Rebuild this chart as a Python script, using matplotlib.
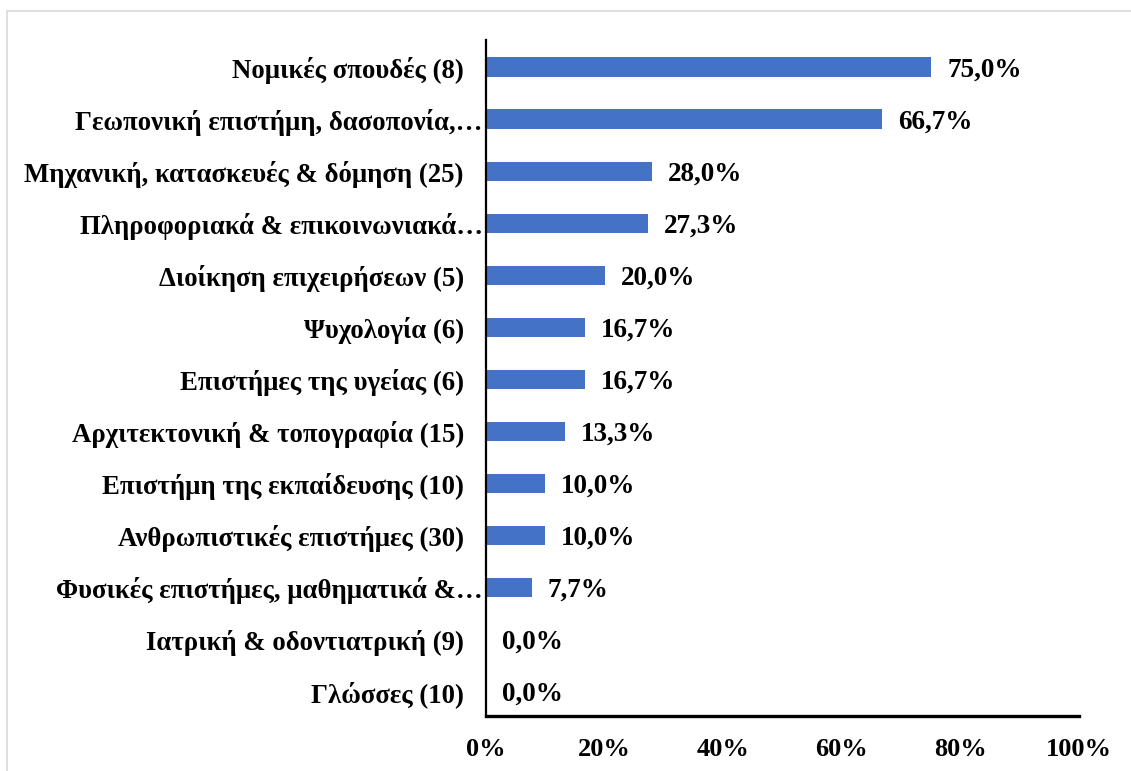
import matplotlib.pyplot as plt
from matplotlib.patches import Rectangle
from matplotlib.transforms import ScaledTranslation

categories = [
    "Νομικές σπουδές (8)",
    "Γεωπονική επιστήμη, δασοπονία,…",
    "Μηχανική, κατασκευές & δόμηση (25)",
    "Πληροφοριακά & επικοινωνιακά…",
    "Διοίκηση επιχειρήσεων (5)",
    "Ψυχολογία (6)",
    "Επιστήμες της υγείας (6)",
    "Αρχιτεκτονική & τοπογραφία (15)",
    "Επιστήμη της εκπαίδευσης (10)",
    "Ανθρωπιστικές επιστήμες (30)",
    "Φυσικές επιστήμες, μαθηματικά &…",
    "Ιατρική & οδοντιατρική (9)",
    "Γλώσσες (10)",
]
values = [75.0, 66.7, 28.0, 27.3, 20.0, 16.7, 16.7, 13.3, 10.0, 10.0, 7.7, 0.0, 0.0]
truncated = [1, 3, 10]
xticks = [0, 20, 40, 60, 80, 100]

plt.rcParams['font.family'] = ['Liberation Serif', 'DejaVu Serif']
plt.rcParams['font.weight'] = 'bold'

fig = plt.figure(figsize=(11.31, 7.71), dpi=100)
fig.patches.append(Rectangle((0.0062, -0.05), 1.1, 1.0357, transform=fig.transFigure,
                             fill=False, edgecolor="#D9D9D9", linewidth=1.2))
ax = fig.add_axes([0.4297, 0.0713, 0.5246, 0.8768])

pos = list(range(len(categories)))
ax.barh(pos, values, height=0.37, color="#4472C4")
for p, v in zip(pos, values):
    ax.text(v + 2.7, p, f"{v:.1f}%".replace(".", ","), va="center_baseline", ha="left",
            fontsize=19.5, fontweight="bold")

ax.set_xlim(0, 100)
ax.set_ylim(12.47, -0.52)
ax.set_yticks(pos)
ax.set_yticklabels(categories, fontsize=19.3, fontweight="bold")
ax.set_xticks(xticks)
ax.set_xticklabels([f"{t}%" for t in xticks], fontsize=19, fontweight="bold")
ax.tick_params(axis="y", length=0, pad=16)
ax.tick_params(axis="x", length=0, pad=16)

for i in truncated:
    lab = ax.get_yticklabels()[i]
    lab.set_transform(lab.get_transform() + ScaledTranslation(19 / 100, 0, fig.dpi_scale_trans))

for s in ["top", "right"]:
    ax.spines[s].set_visible(False)
ax.spines["left"].set_linewidth(1.6)
ax.spines["bottom"].set_linewidth(2.4)

fig.savefig("out.png", dpi=100)
